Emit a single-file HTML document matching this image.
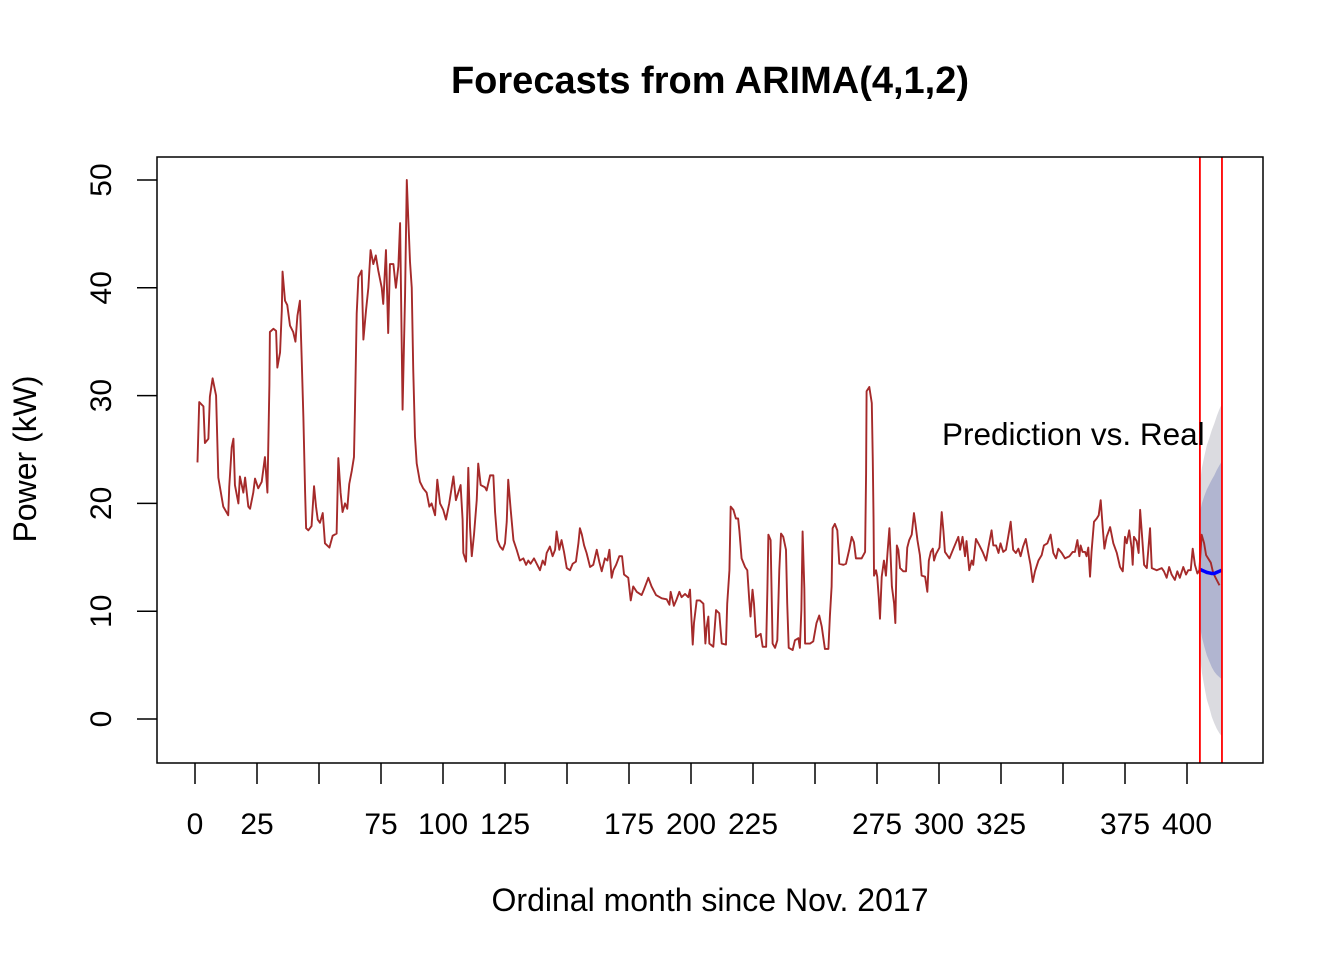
<!DOCTYPE html>
<html><head><meta charset="utf-8"><style>
body{margin:0;background:#fff}
svg text{font-family:"Liberation Sans",Arial,sans-serif}
</style></head><body>
<svg id="chart" width="1344" height="960" viewBox="0 0 1344 960" xmlns="http://www.w3.org/2000/svg">
<rect width="1344" height="960" fill="#fff"/>
<text x="710" y="93" text-anchor="middle" font-size="38" font-weight="bold">Forecasts from ARIMA(4,1,2)</text>
<text x="710" y="911" text-anchor="middle" font-size="32">Ordinal month since Nov. 2017</text>
<text transform="translate(36,459) rotate(-90)" text-anchor="middle" font-size="32">Power (kW)</text>
<g id="bands"></g><g id="series"></g><g id="axes"></g>
<text x="942" y="445" font-size="31.5">Prediction vs. Real</text>
<rect x="157" y="157" width="1106" height="606" fill="none" stroke="#000" stroke-width="1.5"/>
</svg>
<script>
const months=[1,1.7,3.4,4,5.4,6,7.1,8.5,9.4,11.4,13.4,13.8,14.8,15.5,16.1,17.5,18.1,19.5,20.2,21.5,22.2,23.5,24.2,25.5,26.9,28.2,29.2,30,30.2,31.6,32.7,33.2,34.3,35,35.3,36.3,37.2,38.3,39.6,40.5,41.3,42.3,43,43.7,44.4,44.8,45.7,47,48,48.8,49.5,50.4,51.5,52,52.4,54.2,55.5,57.1,57.8,58.7,59.5,60.5,61.4,62.2,63.2,64.1,64.5,65.2,65.9,67.2,67.9,69,69.9,70.8,71.9,72.9,73.9,75.3,75.9,77,77.9,78.6,80,81,82,82.7,83.7,84.7,85.4,86,86.7,87.4,88,88.7,89.4,90.7,92,93.4,94.5,95.4,96.8,97.7,98.8,100.1,101.2,102.5,
104.2,105.2,107.1,107.9,108.2,109.3,110.2,110.9,111.6,112.5,113.6,114.2,115.2,116.9,117.6,119,120.3,121,121.9,123,124.1,125,125.7,126.3,127.3,128.4,129.7,131,132.4,133.5,134.4,135.3,136.7,137.8,139.1,140.2,141.1,141.8,143.1,144.2,145.2,145.8,146.9,147.8,148.8,149.9,151.2,152.3,153.6,154.6,155.2,156,156.9,157.9,159.3,160.6,162,163,164,165.3,166.3,167.1,168,168.7,169.8,171.1,172.2,173,174.7,175.7,176.7,178.1,180.1,181,182.8,184.1,185.9,188.2,190.2,191.3,191.8,193.1,194.2,195.3,196.2,197.6,198.9,199.6,200.7,201.2,202.3,
203.6,205,205.8,206.3,207,207.4,209,210.1,211.4,212.4,214.1,214.6,215.5,216,217.1,218.1,219,219.5,220.4,221.8,222.7,223.5,224,224.8,225.4,226.2,227.5,228.1,228.9,230.3,230.8,231.2,232.1,232.9,233.9,234.8,235.6,236.3,237.2,238.3,238.8,239.4,241,241.9,243.3,243.9,244.5,245,245.7,246,248,249.3,250.6,251.7,252.7,254,255.4,256,256.7,257.1,258,259,259.8,261.4,262.5,263.8,264.8,265.7,266.5,268.8,270.2,270.6,270.8,271.9,272.9,273.3,273.6,273.8,274.6,275.1,275.7,276.2,276.9,277.8,278.6,279.2,280,280.5,281,281.9,282.4,283,283.6,284.3,285.6,286.7,287.2,288,289,289.9,290.5,291.3,292.3,293,294.4,295.3,295.9,296.7,297.5,298,298.8,300.2,301.1,301.8,302.4,304.2,305.8,307.8,
308.5,309.5,310.5,311.1,312.2,313.2,313.8,314.9,316.3,317.6,319,319.9,321.2,321.9,323,324,324.8,325.9,327,327.9,328.9,329.9,331,332,332.9,333.9,335,336,336.9,337.8,338.7,340.1,341.4,342.3,343.7,345,346.1,347.2,348.1,349.5,350.8,352.6,353.9,354.8,355.8,356.6,357.1,357.9,358.9,359.5,360.2,360.9,361.5,362.5,363.6,364.4,365.2,366,366.7,367.6,369,370.3,371.7,373,374.1,375,375.7,376.7,377.7,378.1,378.6,379.7,380.5,381.1,381.9,382.7,383.8,385.1,385.8,387.8,389.8,390.7,391.8,392.8,393.8,395.1,396.1,397.1,398.5,399.6,400.5,401.5,402.3,403.2,404.2,405,405.9,406.9,407.7,409.6,410.4,411.3,413.1];
const power=[23.8,29.4,29,25.6,26,29.9,31.6,30,22.4,19.7,18.9,21.5,25.2,26,21.7,20,22.5,21,22.4,19.7,19.5,21,22.3,21.4,22,24.3,21,31,35.9,36.2,36,32.6,34,37.9,41.5,38.8,38.4,36.5,35.9,35,37.4,38.8,33.6,28,21,17.7,17.5,17.9,21.6,19.7,18.5,18.2,19.1,17.6,16.3,15.9,17,17.2,24.2,21,19.2,20,19.5,21.8,23,24.3,28.7,37.6,41,41.6,35.2,38,40,43.5,42.2,43,41.6,40,38.5,43.5,35.8,42.2,42.2,40,42,46,28.7,39.3,50,46.4,42.4,40,32.4,26.2,23.7,22,21.4,21,19.7,20,18.9,22.2,20,19.4,18.5,20,
22.5,20.3,21.7,18.5,15.4,14.6,23.3,17.8,15.1,17.1,20.3,23.7,21.7,21.5,21.2,22.6,22.6,19.2,16.6,16,15.7,16.3,18.3,22.2,19.4,16.6,15.7,14.7,14.9,14.3,14.7,14.4,14.9,14.4,13.8,14.7,14.3,15.4,16,15.1,15.7,17.4,15.7,16.6,15.5,14,13.8,14.4,14.6,16.3,17.7,17.1,16.1,15.4,14.1,14.3,15.7,14.6,13.7,14.9,14.7,15.7,13.1,13.8,14.3,15.1,15.1,13.4,13.1,11,12.3,11.8,11.5,12,13.1,12.3,11.5,11.2,11.1,10.6,11.8,10.5,11.1,11.8,11.3,11.6,11.3,12,6.9,8.9,11,
11,10.7,7,8.5,9.5,7,6.7,10.1,9.8,7,6.9,10.7,13.8,19.7,19.4,18.6,18.6,17.5,14.9,14.1,13.8,11,9.5,12,10.7,7.6,7.8,7.9,6.7,6.7,12,17.1,16.6,7,6.6,7.3,13.8,17.2,16.9,15.7,10.7,6.6,6.4,7.3,7.5,6.6,10.1,17.4,12.1,7,7,7.2,8.9,9.6,8.6,6.5,6.5,9.5,12.3,17.7,18.1,17.5,14.4,14.3,14.4,15.7,16.9,16.4,14.9,14.9,15.5,22.8,30.4,30.8,29.3,24,18.7,13.3,13.8,13.2,11.3,9.3,13.2,14.7,13.3,15.3,17.7,15.1,12.3,10.7,8.9,16.1,15.7,14,13.7,13.7,15.9,16.6,17.1,19.1,18.1,16.6,15.2,13.3,13.2,11.8,14.7,15.5,15.8,14.7,15.3,15.9,19.2,17.4,15.5,14.9,15.8,16.9,
15.7,16.9,15.1,16.5,13.8,14.7,14.3,16.7,16.1,15.5,14.7,15.9,17.5,16.1,16.1,15.4,16.3,15.5,15.7,16.9,18.3,15.7,15.4,15.8,15.1,16,16.7,15.4,14.3,12.7,13.7,14.7,15.2,16.1,16.3,17.1,15.4,14.9,15.8,15.4,14.9,15.1,15.5,15.5,16.6,15.1,16.1,15.5,15.5,15.1,15.9,13.2,15.5,18.3,18.6,18.9,20.3,17.8,15.8,16.9,17.8,16.3,15.4,14.1,13.7,16.9,16.3,17.5,15.8,14.3,16.9,16.5,15.4,19.4,16.9,14.3,14,17.7,14,13.8,14,13.7,13.1,14.1,13.4,12.9,13.7,13.1,14.1,13.4,13.8,13.8,15.8,14.3,13.5,13.8,17.1,16.3,15.2,14.5,13.7,13.2,12.4];
const fcMonths=[405,406,407,408,409,410,411,412,413,414];
const fcMean=[13.9,13.8,13.7,13.6,13.55,13.5,13.5,13.6,13.7,13.8];
const upper80=[18.9,20.0,20.7,21.3,21.75,22.2,22.6,23.1,23.5,23.9];
const lower80=[8.9,7.6,6.7,5.9,5.35,4.8,4.4,4.1,3.9,3.7];
const upper95=[21.5,23.3,24.4,25.4,26.05,26.8,27.4,28.1,28.7,29.2];
const lower95=[6.3,4.3,3.0,1.8,1.05,0.2,-0.4,-0.9,-1.3,-1.6];
const xTicks=[0,25,50,75,100,125,150,175,200,225,250,275,300,325,350,375,400];
const xLabels=["0","25","","75","100","125","","175","200","225","","275","300","325","","375","400"];
const yTicks=[0,10,20,30,40,50];
const vLines=[405.2,414.1];

const NS='http://www.w3.org/2000/svg';
const X=m=>195+m*2.48;
const Y=v=>719-v*10.78;
function mk(tag,attrs,parent){const e=document.createElementNS(NS,tag);for(const k in attrs)e.setAttribute(k,attrs[k]);parent.appendChild(e);return e;}
const bands=document.getElementById('bands'),series=document.getElementById('series'),axes=document.getElementById('axes');
function band(up,lo,col,name){
  let pts=fcMonths.map((m,i)=>X(m)+','+Y(up[i]));
  pts=pts.concat(fcMonths.map((m,i)=>X(m)+','+Y(lo[i])).reverse());
  const p=mk('polygon',{points:pts.join(' '),fill:col},bands);
  
  
}
band(upper95,lower95,'#dbdbe0','band-95');
band(upper80,lower80,'#b1b5d0','band-80');
const line=mk('polyline',{points:months.map((m,i)=>X(m)+','+Y(power[i])).join(' '),fill:'none',stroke:'#a52a2a','stroke-width':1.9,'stroke-linejoin':'round'},series);


const fl=mk('polyline',{points:fcMonths.map((m,i)=>X(m)+','+Y(fcMean[i])).join(' '),fill:'none',stroke:'#0000ff','stroke-width':3.5},series);


vLines.forEach(m=>{
  const l=mk('line',{x1:X(m),x2:X(m),y1:157,y2:763,stroke:'#ff0000','stroke-width':1.8},series);
  
  
});
xTicks.forEach((t,i)=>{
  const l=mk('line',{x1:X(t),x2:X(t),y1:763,y2:784,stroke:'#000','stroke-width':1.5},axes);
  
  
  if(xLabels[i]){
    const tx=mk('text',{x:X(t),y:834,'text-anchor':'middle','font-size':30},axes);
    tx.textContent=xLabels[i];
    
    
  }
});
yTicks.forEach(t=>{
  const l=mk('line',{x1:137,x2:157,y1:Y(t),y2:Y(t),stroke:'#000','stroke-width':1.5},axes);
  
  
  const tx=mk('text',{transform:`translate(111,${Y(t)}) rotate(-90)`,'text-anchor':'middle','font-size':30},axes);
  tx.textContent=t;
  
  
});
</script>
</body></html>
